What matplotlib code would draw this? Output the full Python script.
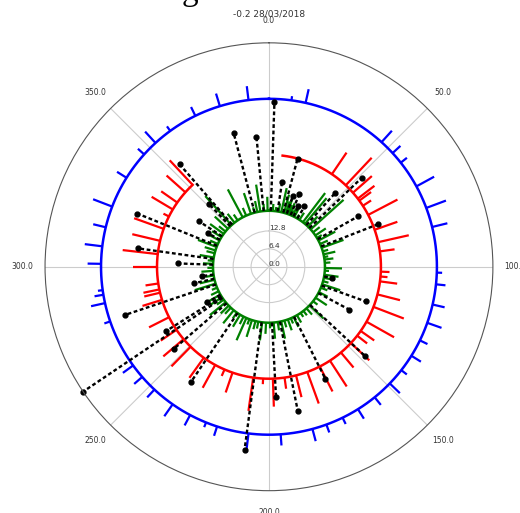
import numpy as np
import matplotlib
matplotlib.use("Agg")
from matplotlib import pyplot as plt

# angles in degrees (clockwise from north), radii at stem tips
blue_base = 60
blue_deg = [7.7, 12.6, 42.1, 47.4, 51.7, 61.4, 69.5, 76.3, 92, 96, 103, 109.5,
            116, 122, 128, 134, 141, 148, 154, 160, 165, 176, 187, 198, 202,
            208, 215, 223, 229, 234, 251, 257.5, 260.4, 262, 271, 277, 283.6,
            291, 302, 312, 317.5, 324, 334, 343, 353]
blue_r = [61.5, 65, 65.5, 63.8, 62.8, 67.2, 67.5, 65.6, 61.9, 63.4, 64.4, 65.4,
          63, 64, 62.5, 65, 63.5, 64, 62.5, 63, 64.5, 64, 67, 63.5, 61.8,
          64.2, 65.2, 63.8, 63.8, 64.5, 62.2, 65.1, 63.2, 61.7, 64.8, 66.3, 64.6,
          67.3, 64, 63, 65.5, 62, 63.5, 64.7, 65]

red_base = 40
red_deg = [7, 34.2, 43.3, 48.6, 52.5, 53.8, 57, 62.4, 70.7, 77.3, 82.1, 92.5,
           95, 97.5, 104.3, 111, 119.4, 125, 128, 133, 140, 147, 153, 160, 166,
           172, 178, 183, 188.1, 199, 203.4, 208.7, 215.6, 224.4, 229.7, 235.7,
           243.2, 252.8, 256.6, 258.3, 261.4, 270, 276.5, 283.4, 289.8, 296.7,
           300.8, 305, 311.7, 317]
red_r = [40, 49.3, 53.5, 49, 47.5, 45.2, 43.5, 51.8, 48.6, 51.2, 45.3, 43.1,
         42.5, 46.2, 48.3, 51.6, 51.3, 45.9, 44.5, 49, 47, 51, 50, 52, 48,
         44, 50, 42, 52, 47.5, 42.5, 49.3, 48.8, 49.8, 49.5, 46.8,
         48, 47.3, 45.8, 45.8, 44.6, 48.6, 52.6, 50.2, 51.2, 42.2,
         48.8, 47, 49, 52]

green_base = 20
green_deg = [318, 322, 326, 332, 336, 341.2, 345, 348, 351.1, 355, 358.6, 1.5,
             4, 7, 10, 12.7, 15.6, 17.5, 19, 20.5, 22, 23.5, 25, 27, 30, 33,
             37.3, 40, 44, 48.1, 52, 56, 59, 62.1, 66, 70.2, 74, 77.2, 80, 82.6,
             86, 91.3, 94, 98.2, 101.4, 105, 108.2, 112, 117, 123.6, 128, 133.5,
             138, 142, 145.6, 150, 153.9, 157, 160.3, 164, 167.4, 171, 175.2,
             179, 183, 187, 191, 194, 197.7, 200.5, 203.8, 207, 211, 215, 219,
             223, 226, 230.7, 234, 237, 240.2, 244, 248, 252.5, 256.5, 261,
             265.8, 269, 273, 276, 279.6, 284, 287, 290.7, 294, 298, 302, 306,
             309, 312.8]
green_r = [34, 24, 22.5, 31.3, 23, 27.8, 22, 24, 29.7, 22.5, 25, 21,
           22.5, 21.5, 23, 28.8, 26.7, 24.5, 25.5, 23.5, 24.5, 22, 23, 24, 21.5, 23,
           33.1, 32, 25, 35.8, 23, 24.5, 22, 26.8, 23, 28.3, 22, 24.3, 21.5, 23.2,
           22, 26.1, 21.5, 25.1, 24.1, 22, 26.8, 22.5, 23.5, 24.8, 22, 26.8,
           23, 22, 21.7, 23, 23.9, 22, 24.1, 22.5, 26.3, 23, 25.8,
           22, 24, 26.5, 22.5, 23, 26.3, 22, 28.7, 23, 25, 22.5, 26,
           23, 24, 27.3, 23, 25, 26.4, 23, 22, 27.8, 25.4, 23,
           24.2, 22, 23.6, 22, 25.1, 23, 24, 27.1, 23, 25, 24, 26,
           23, 26.4]

dash_base = 20
dash_deg = [1.9, 345.2, 354.5, 14.8, 8.8, 18.6, 22.7, 26, 30.5, 41.9, 46.2,
            60.5, 68.7, 100, 109.7, 118.1, 132.9, 153.3, 168.7, 176.9, 187.6,
            214.1, 229.2, 236.1, 238, 240, 251.5, 257.6, 262, 272.1, 278, 292,
            298.8, 303, 316.3, 318.9]
dash_r = [59, 49.5, 46.5, 40, 30.5, 26.5, 28, 24, 25, 35.5, 46,
          36.5, 42, 23, 36.8, 32.5, 47, 44.8, 52.5, 46.5, 66,
          49.8, 44.7, 80, 43.5, 25.5, 54.4, 27.6, 24, 32.5, 47.3, 50.7,
          25, 30, 31, 48.5]

theta_labels = ['0.0', '50.0', '100.0', '150.0', '200.0', '250.0', '300.0', '350.0']
r_ticks = [0, 6.4, 12.8]
r_labels = ['0.0', '6.4', '12.8']

fig = plt.figure(figsize=(5.2, 5.13), dpi=100)
ax = fig.add_axes([0.0865, 0.0435, 0.8615, 0.873], projection='polar')
ax.set_theta_zero_location('N')
ax.set_theta_direction(-1)

circle = np.linspace(0, 2 * np.pi, 400)

# blue ring
ax.plot(circle, np.full(circle.size, blue_base), color='b', lw=1.8)
ax.vlines(np.deg2rad(blue_deg), blue_base, blue_r, color='b', lw=1.6)

# red ring (only over the range of its data)
rt = np.deg2rad(red_deg)
arc = np.linspace(rt.min(), rt.max(), 400)
ax.plot(arc, np.full(arc.size, red_base), color='r', lw=1.8)
ax.vlines(rt, red_base, red_r, color='r', lw=1.6)

# green ring
ax.plot(circle, np.full(circle.size, green_base), color='g', lw=1.8)
ax.vlines(np.deg2rad(green_deg), green_base, green_r, color='g', lw=1.6)

# black dashed stems with dots
dt = np.deg2rad(dash_deg)
ax.vlines(dt, dash_base, dash_r, color='k', lw=1.7, linestyles=(0, (1.6, 1.1)))
ax.plot(dt, dash_r, 'o', color='k', ms=3.5, clip_on=False)

ax.set_ylim(0, 80)
ax.set_rticks(r_ticks)
ax.set_yticklabels(r_labels)
ax.set_rlabel_position(0)
ax.set_thetagrids(np.arange(0, 360, 45), labels=theta_labels)
ax.tick_params(axis='x', labelsize=5.5, pad=5.5, colors='#333333')
ax.tick_params(axis='y', labelsize=5.3, colors='#333333')
ax.grid(color='#cccccc', lw=0.8)
ax.spines['polar'].set_color('#555555')
ax.spines['polar'].set_linewidth(0.8)

fig.text(0.5173, 1 - 14 / 513, '-0.2 28/03/2018', fontsize=6.5, color='#333333',
         ha='center', va='center')
fig.text(0.365, 1.0, 'g', fontsize=24, family='Liberation Serif',
         ha='center', va='baseline')

fig.savefig('out.png', dpi=100)
